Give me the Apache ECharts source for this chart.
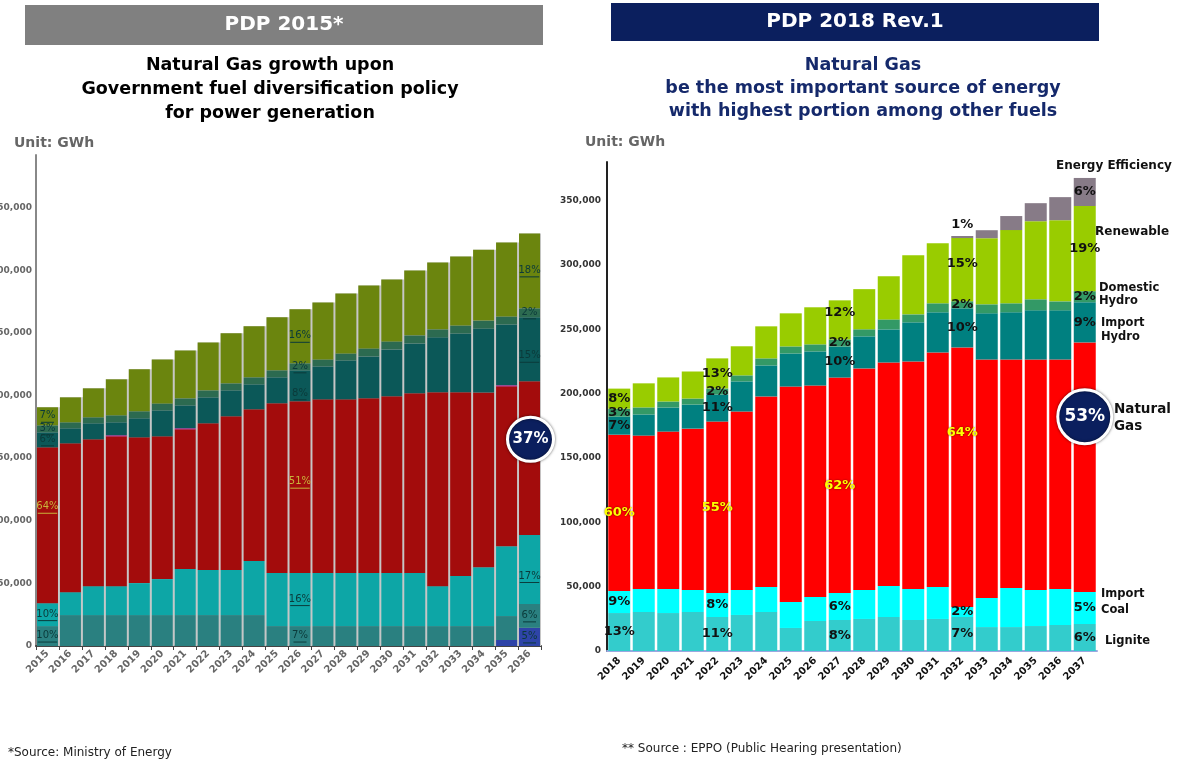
<!DOCTYPE html>
<html>
<head>
<meta charset="utf-8">
<script src="https://cdn.jsdelivr.net/npm/echarts@6/dist/echarts.min.js"></script>
<style>html,body{margin:0;padding:0;background:#fff}#chart{width:1179px;height:761px}</style>
</head>
<body>
<div id="chart"></div>
<script>
// ---------- PDP 2015 (left) ----------
const lYears = ['2015', '2016', '2017', '2018', '2019', '2020', '2021', '2022', '2023', '2024', '2025',
    '2026', '2027', '2028', '2029', '2030', '2031', '2032', '2033', '2034', '2035', '2036'];
const lNuclear = [0, 0, 0, 0, 0, 0, 0, 0, 0, 0, 0, 0, 0, 0, 0, 0, 0, 0, 0, 0, 4800, 14500];
const lLignite = [15900, 24700, 24700, 24700, 24700, 24700, 24700, 24700, 24700, 24700, 15900,
    15900, 15900, 15900, 15900, 15900, 15900, 15900, 15900, 15900, 19100, 19100];
const lImportCoal = [18300, 18300, 23100, 23100, 25500, 28700, 36700, 35900, 35900, 43100, 42300,
    42300, 42300, 42300, 42300, 42300, 42300, 31900, 39900, 47000, 55800, 55000];
const lGas = [124400, 118800, 117200, 119600, 116400, 114000, 111600, 117200, 122800, 121200, 135600,
    137200, 138700, 138700, 139500, 141100, 143500, 154700, 146700, 139500, 127600, 122800];
const lOil = [0, 0, 0, 800, 0, 0, 800, 0, 0, 0, 0, 0, 0, 0, 0, 0, 0, 0, 0, 0, 800, 0];
const lImportHydro = [12000, 12000, 12800, 10400, 15200, 20700, 18300, 20700, 20700, 19900, 20700,
    24700, 26300, 31100, 33500, 37500, 39900, 43900, 47000, 51000, 48600, 51000];
const lDomHydro = [5600, 4800, 4800, 5600, 5600, 5600, 5600, 5600, 5600, 5600, 5600,
    5600, 5600, 5600, 6400, 6400, 6400, 6400, 6400, 6400, 6400, 7200];
const lRenewable = [14400, 19900, 23100, 28700, 33500, 35100, 38300, 38300, 39900, 40700, 42300,
    43100, 45500, 47800, 50200, 49400, 51800, 53400, 55000, 56600, 59000, 59800];

const lLabelYears = ['2015', '2026', '2036'];
const lPctNuclear = ['', '', '5%'];
const lPctLignite = ['10%', '7%', '6%'];
const lPctImportCoal = ['10%', '16%', '17%'];
const lPctGas = ['64%', '51%', ''];
const lPctImportHydro = ['6%', '8%', '15%'];
const lPctDomHydro = ['3%', '2%', '2%'];
const lPctRenewable = ['7%', '16%', '18%'];
const lOffGas = [-18, -5, 0];
const lOffImportHydro = [0, 8, 7];
const lOffImportCoal = [0, 0, 7];

// ---------- PDP 2018 Rev.1 (right) ----------
const rYears = ['2018', '2019', '2020', '2021', '2022', '2023', '2024', '2025', '2026', '2027',
    '2028', '2029', '2030', '2031', '2032', '2033', '2034', '2035', '2036', '2037'];
const rLignite = [29500, 30300, 29500, 30300, 26400, 28000, 30300, 17900, 23300, 24100,
    24900, 26400, 24100, 24900, 26400, 18600, 18600, 19400, 20200, 21000];
const rImportCoal = [17100, 17900, 18700, 17100, 18700, 19500, 19500, 20200, 18700, 21000,
    22600, 24100, 24100, 24900, 7800, 22600, 30400, 28000, 28000, 24900];
const rGas = [121500, 119200, 122300, 125400, 133200, 138600, 148000, 167400, 164300, 167400,
    172100, 173700, 176800, 182200, 201700, 185400, 177600, 179100, 178300, 193900];
const rImportHydro = [14000, 16400, 18700, 18700, 21000, 23400, 24100, 25700, 26500, 24100,
    24900, 25700, 30400, 31200, 30400, 35800, 36600, 38200, 38200, 31200];
const rDomHydro = [6200, 5500, 4700, 4700, 4700, 4700, 5500, 5500, 5500, 5500,
    5500, 7800, 6200, 7000, 5500, 7000, 7000, 8600, 7000, 8600];
const rRenewable = [15600, 18700, 18700, 21000, 23400, 22600, 24900, 25700, 28800, 30400,
    31200, 33500, 45900, 46700, 49100, 51400, 56900, 60700, 63100, 66200];
const rEfficiency = [0, 0, 0, 0, 0, 0, 0, 0, 0, 0,
    0, 0, 0, 0, 1600, 6200, 10900, 14000, 17900, 21800];

const rLabelYears = ['2018', '2022', '2027', '2032', '2037'];
const rPctLignite = ['13%', '11%', '8%', '7%', '6%'];
const rPctImportCoal = ['9%', '8%', '6%', '2%', '5%'];
const rPctGas = ['60%', '55%', '62%', '64%', ''];
const rPctImportHydro = ['7%', '11%', '10%', '10%', '9%'];
const rPctDomHydro = ['3%', '2%', '2%', '2%', '2%'];
const rPctRenewable = ['8%', '13%', '12%', '15%', '19%'];
const rPctEfficiency = ['', '', '', '1%', '6%'];
const rOffGas = [0, 0, 0, -45, 0];
const rOffRenewable = [0, 0, -7, -6, 0];

const FONT = 'DejaVu Sans';

function leftLabel(pct, color, dy) {
    return {
        show: true, position: 'inside', offset: [0, dy || 0],
        formatter: '{t|' + pct + '}\n{u|}',
        rich: {
            t: {fontSize: 10, color: color, lineHeight: 12, fontFamily: FONT},
            u: {width: pct.length * 6.5, height: 1, backgroundColor: color}
        }
    };
}

function rightLabel(pct, color, dy, pos) {
    const l = {
        show: true, position: pos || 'inside', offset: [0, dy || 0], formatter: pct,
        fontSize: 13, fontWeight: 'bold', fontFamily: FONT, color: color
    };
    if (color !== '#111') {
        l.textShadowColor = 'rgba(0,0,0,0.6)';
        l.textShadowBlur = 2;
    }
    return l;
}

function barSeries(name, values, axis, color, years, labelYears, pcts, offs, labelFn) {
    return {
        name: name, type: 'bar', stack: 'total' + axis,
        xAxisIndex: axis, yAxisIndex: axis,
        barWidth: axis === 0 ? 21 : 22, barGap: '-100%',
        itemStyle: {color: color},
        data: values.map(function (v, i) {
            const k = pcts ? labelYears.indexOf(years[i]) : -1;
            if (k < 0 || !pcts[k]) return v;
            return {value: v, label: labelFn(pcts[k], offs ? offs[k] : 0)};
        })
    };
}

const lTotals = lYears.map(function (y, i) {
    return lNuclear[i] + lLignite[i] + lImportCoal[i] + lGas[i] + lOil[i] +
        lImportHydro[i] + lDomHydro[i] + lRenewable[i];
});

const lDark = '#0b3a3a';
const lYel = '#c9b43a';
const L = function (color) {
    return function (pct, dy) { return leftLabel(pct, color, dy); };
};
const R = function (color, pos) {
    return function (pct, dy) { return rightLabel(pct, color, dy, pct === '1%' ? 'top' : pos); };
};

const series = [
    {
        name: 'outline', type: 'bar', xAxisIndex: 0, yAxisIndex: 0, barWidth: 23, barGap: '-100%',
        silent: true, itemStyle: {color: '#c6c6c6'}, data: lTotals,
        markPoint: {
            symbol: 'circle', symbolSize: [46, 44],
            itemStyle: {color: '#0b1f5e', borderColor: '#fff', borderWidth: 3,
                shadowColor: 'rgba(0,0,0,0.5)', shadowBlur: 3},
            label: {show: true, color: '#fff', fontWeight: 'bold', fontSize: 15, fontFamily: FONT},
            data: [{coord: ['2036', 165000], value: '37%'}]
        }
    },
    barSeries('Nuclear', lNuclear, 0, '#2e44a8', lYears, lLabelYears, lPctNuclear, null, L(lDark)),
    barSeries('Lignite', lLignite, 0, '#2a8080', lYears, lLabelYears, lPctLignite, null, L(lDark)),
    barSeries('Import Coal', lImportCoal, 0, '#0da6a6', lYears, lLabelYears, lPctImportCoal, lOffImportCoal, L(lDark)),
    barSeries('Natural Gas', lGas, 0, '#a30c0c', lYears, lLabelYears, lPctGas, lOffGas, L(lYel)),
    barSeries('Oil', lOil, 0, '#c0109a', lYears, null, null, null, null),
    barSeries('Import Hydro', lImportHydro, 0, '#0b5858', lYears, lLabelYears, lPctImportHydro, lOffImportHydro, L(lDark)),
    barSeries('Domestic Hydro', lDomHydro, 0, '#2c6a50', lYears, lLabelYears, lPctDomHydro, null, L(lDark)),
    barSeries('Renewable', lRenewable, 0, '#6b850e', lYears, lLabelYears, lPctRenewable, null, L(lDark)),

    barSeries('Lignite', rLignite, 1, '#33cccc', rYears, rLabelYears, rPctLignite, null, R('#111')),
    barSeries('Import Coal', rImportCoal, 1, '#00ffff', rYears, rLabelYears, rPctImportCoal, null, R('#111')),
    barSeries('Natural Gas', rGas, 1, '#ff0000', rYears, rLabelYears, rPctGas, rOffGas, R('#ffff00')),
    barSeries('Import Hydro', rImportHydro, 1, '#008080', rYears, rLabelYears, rPctImportHydro, null, R('#111')),
    barSeries('Domestic Hydro', rDomHydro, 1, '#339966', rYears, rLabelYears, rPctDomHydro, null, R('#111')),
    barSeries('Renewable', rRenewable, 1, '#99cc00', rYears, rLabelYears, rPctRenewable, rOffRenewable, R('#111')),
    barSeries('Energy Efficiency', rEfficiency, 1, '#877b87', rYears, rLabelYears, rPctEfficiency, null, R('#111'))
];

// big "53%" badge on the 2037 gas bar
series[11].markPoint = {
    symbol: 'circle', symbolSize: [54, 54],
    itemStyle: {color: '#0b1f5e', borderColor: '#fff', borderWidth: 3,
        shadowColor: 'rgba(0,0,0,0.5)', shadowBlur: 3},
    label: {show: true, color: '#fff', fontWeight: 'bold', fontSize: 17, fontFamily: FONT},
    data: [{coord: ['2037', 182000], value: '53%'}]
};

function txt(text, x, y, size, color, align, weight) {
    return {
        type: 'text', x: x, y: y, silent: true,
        style: {
            text: text, fill: color, textAlign: align || 'left', textVerticalAlign: 'middle',
            font: (weight || 'bold') + ' ' + size + 'px "' + FONT + '"'
        }
    };
}

const graphics = [
    {type: 'rect', shape: {x: 25, y: 5, width: 518, height: 40}, style: {fill: '#808080'}, silent: true},
    txt('PDP 2015*', 284, 25, 20, '#fff', 'center'),
    {type: 'rect', shape: {x: 611, y: 3, width: 488, height: 38}, style: {fill: '#0b1f5e'}, silent: true},
    txt('PDP 2018 Rev.1', 855, 22, 20, '#fff', 'center'),
    txt('Natural Gas growth upon', 270, 65, 17.5, '#000', 'center'),
    txt('Government fuel diversification policy', 270, 89, 17.5, '#000', 'center'),
    txt('for power generation', 270, 113, 17.5, '#000', 'center'),
    txt('Natural Gas', 863, 65, 17.5, '#15296b', 'center'),
    txt('be the most important source of energy', 863, 88, 17.5, '#15296b', 'center'),
    txt('with highest portion among other fuels', 863, 111, 17.5, '#15296b', 'center'),
    txt('Unit: GWh', 14, 143, 14, '#666'),
    txt('Unit: GWh', 585, 142, 14, '#666'),
    txt('Energy Efficiency', 1056, 166, 12, '#111'),
    txt('Renewable', 1095, 232, 12, '#111'),
    txt('Domestic', 1099, 288, 11.5, '#111'),
    txt('Hydro', 1099, 301, 11.5, '#111'),
    txt('Import', 1101, 323, 11.5, '#111'),
    txt('Hydro', 1101, 337, 11.5, '#111'),
    txt('Natural', 1114, 409, 13.5, '#111'),
    txt('Gas', 1114, 426, 13.5, '#111'),
    txt('Import', 1101, 594, 11.5, '#111'),
    txt('Coal', 1101, 610, 11.5, '#111'),
    txt('Lignite', 1105, 641, 11.5, '#111'),
    txt('*Source: Ministry of Energy', 8, 753, 12, '#222', 'left', 'normal'),
    txt('** Source : EPPO (Public Hearing presentation)', 622, 749, 12, '#222', 'left', 'normal')
];

const chart = echarts.init(document.getElementById('chart'));
chart.setOption({
    backgroundColor: '#ffffff',
    animation: false,
    textStyle: {fontFamily: FONT},
    grid: [
        {left: 36, top: 155, width: 505, height: 491, containLabel: false, outerBoundsMode: 'none'},
        {left: 607, top: 162, width: 490, height: 489, containLabel: false, outerBoundsMode: 'none'}
    ],
    xAxis: [
        {
            type: 'category', gridIndex: 0, data: lYears,
            axisLine: {lineStyle: {color: '#444', width: 2}},
            axisTick: {show: true, length: 4, lineStyle: {color: '#444'}},
            axisLabel: {rotate: 45, fontSize: 10, fontWeight: 'bold', color: '#666', margin: 6, interval: 0}
        },
        {
            type: 'category', gridIndex: 1, data: rYears,
            axisLine: {lineStyle: {color: '#9aa8e0', width: 2}},
            axisTick: {show: false},
            axisLabel: {rotate: 45, fontSize: 10, fontWeight: 'bold', color: '#111', margin: 8, interval: 0}
        }
    ],
    yAxis: [
        {
            type: 'value', gridIndex: 0, min: 0, max: 392000, interval: 50000,
            axisLine: {show: true, lineStyle: {color: '#888', width: 2}},
            axisTick: {show: false}, splitLine: {show: false},
            axisLabel: {fontSize: 9, fontWeight: 'bold', color: '#666', margin: 4, showMaxLabel: false}
        },
        {
            type: 'value', gridIndex: 1, min: 0, max: 380000, interval: 50000,
            axisLine: {show: true, lineStyle: {color: '#222', width: 2}},
            axisTick: {show: false}, splitLine: {show: false},
            axisLabel: {fontSize: 9, fontWeight: 'bold', color: '#333', margin: 6, showMaxLabel: false}
        }
    ],
    series: series,
    graphic: graphics
});
window.onresize = chart.resize;
</script>
</body>
</html>
